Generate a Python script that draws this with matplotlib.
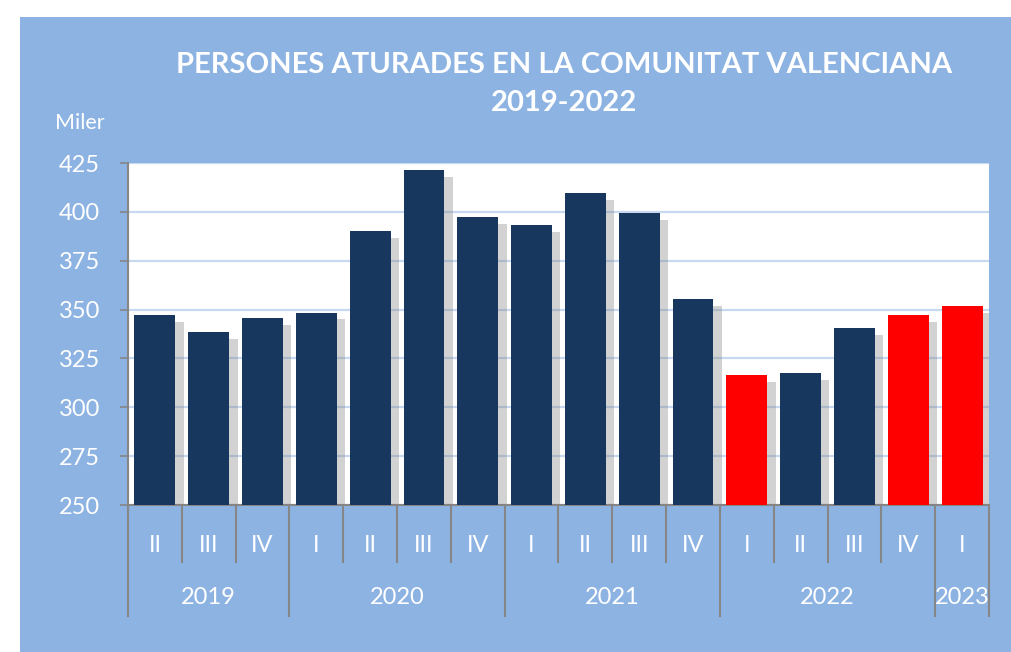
import matplotlib.pyplot as plt
import matplotlib.transforms as mtransforms
from matplotlib import patheffects as pe
from matplotlib.patches import Rectangle
from matplotlib.lines import Line2D

# dades (milers de persones aturades)
quarters = ['II', 'III', 'IV', 'I', 'II', 'III', 'IV', 'I', 'II', 'III', 'IV',
            'I', 'II', 'III', 'IV', 'I']
values = [347, 338.5, 345.5, 348.5, 390, 421.5, 397.5, 393.5, 409.5, 399.5,
          355.5, 316.5, 317.5, 340.5, 347, 352]
highlight = [False] * 11 + [True, False, False, True, True]
years = ['2019', '2020', '2021', '2022', '2023']
year_counts = [3, 4, 4, 4, 1]

W, H = 1012, 652
bg = '#8DB3E2'
navy = '#17375E'
grey = '#868686'
font = 'Lato'

fig = plt.figure(figsize=(W / 100, H / 100), dpi=100, facecolor='white')
fig.patches.append(Rectangle((20 / W, 0), 1 - 20 / W, 1 - 17 / H,
                             transform=fig.transFigure, facecolor=bg,
                             edgecolor='none', zorder=-5))

ax = fig.add_axes([128 / W, 1 - 505 / H, (989 - 128) / W, (505 - 163) / H])
ax.set_zorder(2)
ax.set_facecolor('white')

x = range(len(values))
colors = ['#FF0000' if h else navy for h in highlight]
bars = ax.bar(x, values, width=0.76, color=colors, zorder=3)
for b in bars:
    b.set_path_effects([pe.SimplePatchShadow(offset=(6, -5), shadow_rgbFace='#808080', alpha=0.35),
                        pe.Normal()])

ax.set_xlim(-0.5, len(values) - 0.5)
ax.set_ylim(250, 425)
ax.set_yticks(range(250, 426, 25))
ax.yaxis.grid(True, color='#C6D9F1', linewidth=1.6, zorder=0)
ax.set_axisbelow(True)
ax.set_xticks([])
ax.tick_params(axis='y', length=6, width=1.2, color=grey, pad=14,
               labelcolor='white', labelsize=17)
for lab in ax.get_yticklabels():
    lab.set_family(font)
for s in ['top', 'right']:
    ax.spines[s].set_visible(False)
for s in ['left', 'bottom']:
    ax.spines[s].set_color(grey)
    ax.spines[s].set_linewidth(1.5)

# eix de categories en dos nivells
tr = mtransforms.blended_transform_factory(ax.transData, fig.transFigure)
bounds = [0]
for c in year_counts:
    bounds.append(bounds[-1] + c)
for i in range(len(values) + 1):
    bottom = 616 if i in bounds else 562
    fig.add_artist(Line2D([i - 0.5, i - 0.5], [1 - 505 / H, 1 - bottom / H],
                          transform=tr, color=grey, linewidth=1.5))
for i, q in enumerate(quarters):
    fig.text(i, 1 - 545 / H, q, transform=tr, ha='center', va='center',
             color='white', fontsize=17, family=font)
for j, y in enumerate(years):
    mid = (bounds[j] + bounds[j + 1]) / 2 - 0.5
    fig.text(mid, 1 - 598 / H, y, transform=tr, ha='center', va='center',
             color='white', fontsize=17, family=font)

fig.text(564 / W, 1 - 65 / H, 'PERSONES ATURADES EN LA COMUNITAT VALENCIANA',
         ha='center', va='center', color='white', fontsize=21,
         fontweight='bold', family=font)
fig.text(564 / W, 1 - 103 / H, '2019-2022', ha='center', va='center',
         color='white', fontsize=21, fontweight='bold', family=font)
fig.text(55 / W, 1 - 123 / H, 'Miler', ha='left', va='center',
         color='white', fontsize=15.5, family=font)

fig.savefig('out.png', dpi=100, facecolor=fig.get_facecolor())
